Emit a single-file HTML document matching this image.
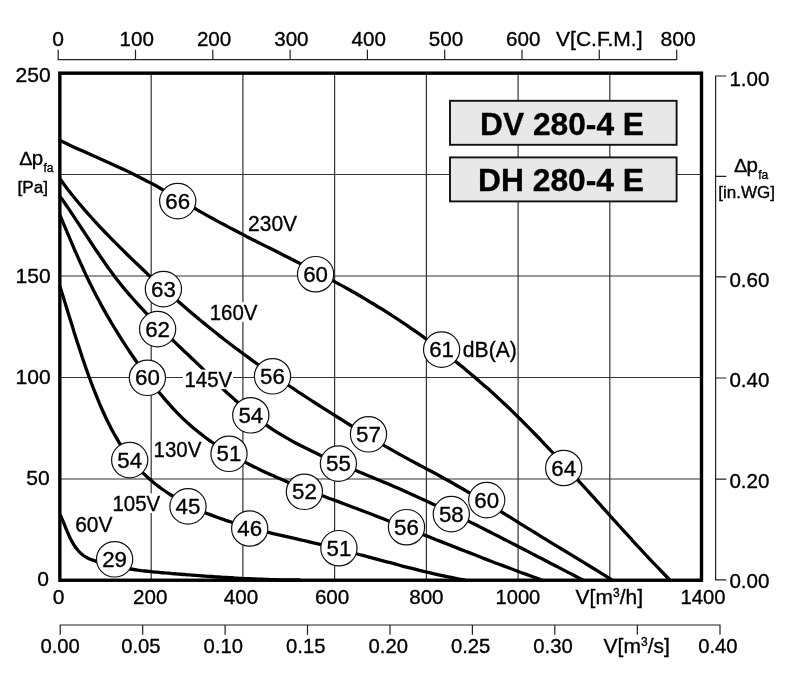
<!DOCTYPE html>
<html><head><meta charset="utf-8"><title>DV 280-4 E</title>
<style>
html,body{margin:0;padding:0;background:#fff;}
body{width:790px;height:681px;overflow:hidden;font-family:"Liberation Sans",sans-serif;}
svg{display:block;filter:grayscale(1);}
text{stroke:#000;stroke-width:.35px;stroke-linejoin:round;}
</style></head><body>
<svg width="790" height="681" viewBox="0 0 790 681" font-family="'Liberation Sans', sans-serif" fill="#000">
<rect x="0" y="0" width="790" height="681" fill="#fff"/>
<path d="M151.20 73.2 V580.2 M242.90 73.2 V580.2 M334.60 73.2 V580.2 M426.40 73.2 V580.2 M518.10 73.2 V580.2 M609.80 73.2 V580.2 M59.9 174.50 H701.5 M59.9 276.00 H701.5 M59.9 377.50 H701.5 M59.9 479.00 H701.5" stroke="#333" stroke-width="1.2" fill="none"/>
<path d="M58.2 49.7 V59.6 H676.7 V49.7 M135.5 59.6 V49.7 M212.8 59.6 V49.7 M290.1 59.6 V49.7 M367.4 59.6 V49.7 M444.7 59.6 V49.7 M522.0 59.6 V49.7 M599.3 59.6 V49.7" stroke="#222" stroke-width="1.2" fill="none"/>
<path d="M726.3 76 H715.6 V579.9 H726.3 M715.6 176.3 H726.3 M715.6 276.9 H726.3 M715.6 378.0 H726.3 M715.6 479.2 H726.3" stroke="#222" stroke-width="1.2" fill="none"/>
<path d="M60.2 634.8 V625 H720.0 V634.8 M142.7 625 V634.8 M225.1 625 V634.8 M307.5 625 V634.8 M390.0 625 V634.8 M472.4 625 V634.8 M554.8 625 V634.8 M637.3 625 V634.8" stroke="#222" stroke-width="1.2" fill="none"/>
<rect x="450.0" y="100.8" width="226.6" height="44.0" fill="#e8e8e9" stroke="#111" stroke-width="1.9"/>
<rect x="450.0" y="157.4" width="226.6" height="44.0" fill="#e8e8e9" stroke="#111" stroke-width="1.9"/>
<text x="562.0" y="135.1" font-size="32" font-weight="bold" text-anchor="middle" textLength="164" lengthAdjust="spacingAndGlyphs">DV 280-4 E</text>
<text x="561.0" y="190.8" font-size="32" font-weight="bold" text-anchor="middle" textLength="166" lengthAdjust="spacingAndGlyphs">DH 280-4 E</text>
<path d="M60.0 140.6 C61.7 141.4 66.9 143.8 70.3 145.4 C73.7 146.9 77.1 148.4 80.5 150.0 C83.8 151.5 87.2 153.0 90.6 154.5 C93.9 156.0 97.3 157.4 100.6 158.9 C103.9 160.4 107.2 161.9 110.5 163.4 C113.8 164.9 117.1 166.4 120.4 167.9 C123.7 169.5 127.0 171.0 130.2 172.6 C133.5 174.2 136.7 175.8 140.0 177.4 C143.2 179.0 146.4 180.7 149.6 182.4 C152.9 184.2 156.1 185.9 159.3 187.7 C162.5 189.6 165.7 191.4 168.9 193.3 C172.1 195.1 175.2 197.0 178.4 198.9 C181.6 200.8 184.8 202.7 188.0 204.5 C191.2 206.4 194.4 208.3 197.7 210.1 C200.9 212.0 204.1 213.8 207.3 215.6 C210.6 217.4 213.8 219.1 217.1 220.9 C220.3 222.7 223.6 224.4 226.8 226.1 C230.1 227.9 233.4 229.6 236.6 231.3 C239.9 233.0 243.2 234.7 246.4 236.4 C249.7 238.0 253.0 239.7 256.3 241.4 C259.6 243.0 262.8 244.7 266.1 246.4 C269.4 248.0 272.7 249.7 276.0 251.3 C279.2 253.0 282.5 254.6 285.8 256.3 C289.1 257.9 292.3 259.6 295.6 261.3 C298.9 262.9 302.1 264.6 305.4 266.3 C308.7 267.9 311.9 269.6 315.2 271.3 C318.4 273.0 321.7 274.7 324.9 276.4 C328.1 278.1 331.4 279.9 334.6 281.6 C337.8 283.3 341.0 285.1 344.2 286.9 C347.4 288.7 350.6 290.5 353.8 292.3 C357.0 294.1 360.2 295.9 363.3 297.8 C366.5 299.7 369.6 301.6 372.7 303.5 C375.9 305.4 379.0 307.3 382.1 309.2 C385.2 311.2 388.3 313.2 391.4 315.2 C394.5 317.2 397.6 319.2 400.6 321.2 C403.7 323.3 406.7 325.3 409.7 327.4 C412.8 329.5 415.8 331.6 418.8 333.7 C421.8 335.8 424.8 338.0 427.7 340.2 C430.7 342.3 433.7 344.5 436.6 346.7 C439.5 348.9 442.5 351.2 445.4 353.4 C448.3 355.7 451.2 357.9 454.1 360.2 C456.9 362.5 459.8 364.8 462.7 367.1 C465.5 369.5 468.3 371.8 471.1 374.2 C474.0 376.6 476.8 378.9 479.5 381.4 C482.3 383.8 485.1 386.2 487.8 388.6 C490.6 391.1 493.3 393.5 496.0 396.0 C498.7 398.5 501.4 401.0 504.1 403.5 C506.8 406.0 509.4 408.6 512.1 411.1 C514.7 413.7 517.3 416.3 519.9 418.8 C522.5 421.4 525.1 424.0 527.7 426.6 C530.3 429.2 532.9 431.9 535.4 434.5 C538.0 437.1 540.6 439.8 543.1 442.5 C545.6 445.1 548.2 447.8 550.7 450.5 C553.2 453.1 555.7 455.8 558.2 458.5 C560.7 461.2 563.2 463.9 565.7 466.6 C568.2 469.3 570.7 472.1 573.1 474.8 C575.6 477.5 578.1 480.2 580.6 483.0 C583.0 485.7 585.5 488.4 588.0 491.1 C590.4 493.9 592.9 496.6 595.4 499.4 C597.8 502.1 600.3 504.8 602.7 507.6 C605.2 510.3 607.7 513.0 610.1 515.8 C612.6 518.5 615.0 521.2 617.5 524.0 C620.0 526.7 622.4 529.4 624.9 532.2 C627.4 534.9 629.9 537.6 632.3 540.3 C634.8 543.0 637.3 545.7 639.8 548.4 C642.3 551.1 644.8 553.8 647.3 556.5 C649.8 559.1 652.4 561.8 654.9 564.5 C657.4 567.1 660.0 569.8 662.5 572.4 C665.1 575.1 668.9 579.0 670.2 580.3" stroke="#000" stroke-width="3.3" fill="none" stroke-linejoin="round"/>
<path d="M60.0 178.7 C61.0 180.1 63.9 184.2 65.9 186.9 C67.9 189.6 70.0 192.2 72.0 194.8 C74.1 197.4 76.2 200.0 78.3 202.5 C80.5 205.1 82.6 207.6 84.8 210.1 C86.9 212.6 89.1 215.0 91.4 217.5 C93.6 219.9 95.8 222.4 98.1 224.8 C100.3 227.2 102.6 229.6 104.9 232.0 C107.2 234.4 109.5 236.7 111.8 239.1 C114.1 241.5 116.4 243.8 118.8 246.2 C121.1 248.5 123.5 250.9 125.9 253.2 C128.2 255.5 130.6 257.8 133.0 260.1 C135.4 262.4 137.8 264.7 140.2 267.0 C142.7 269.3 145.1 271.6 147.5 273.9 C150.0 276.1 152.4 278.4 154.9 280.6 C157.3 282.9 159.8 285.1 162.3 287.3 C164.7 289.6 167.2 291.8 169.7 294.0 C172.2 296.2 174.7 298.4 177.2 300.6 C179.7 302.8 182.2 305.0 184.7 307.1 C187.3 309.3 189.8 311.4 192.3 313.6 C194.9 315.7 197.4 317.9 200.0 320.0 C202.6 322.1 205.1 324.2 207.7 326.3 C210.3 328.4 212.9 330.5 215.5 332.5 C218.1 334.6 220.7 336.6 223.3 338.7 C225.9 340.7 228.6 342.7 231.2 344.7 C233.8 346.8 236.5 348.8 239.2 350.7 C241.8 352.7 244.5 354.7 247.2 356.6 C249.8 358.6 252.5 360.5 255.2 362.5 C257.9 364.4 260.6 366.3 263.4 368.2 C266.1 370.1 268.8 372.0 271.5 373.9 C274.2 375.7 277.0 377.6 279.7 379.5 C282.5 381.3 285.2 383.2 288.0 385.0 C290.7 386.9 293.5 388.7 296.2 390.5 C299.0 392.4 301.8 394.2 304.5 396.0 C307.3 397.8 310.1 399.6 312.9 401.5 C315.7 403.3 318.5 405.1 321.3 406.8 C324.0 408.6 326.9 410.4 329.7 412.2 C332.5 414.0 335.3 415.8 338.1 417.5 C340.9 419.3 343.8 421.1 346.6 422.9 C349.4 424.6 352.3 426.4 355.1 428.1 C358.0 429.9 360.8 431.6 363.7 433.4 C366.6 435.1 369.4 436.9 372.3 438.6 C375.2 440.3 378.1 442.0 380.9 443.7 C383.8 445.4 386.7 447.1 389.6 448.7 C392.5 450.4 395.4 452.0 398.3 453.6 C401.2 455.2 404.1 456.8 407.0 458.4 C409.8 460.0 412.7 461.5 415.6 463.0 C418.5 464.6 421.4 466.1 424.3 467.6 C427.2 469.2 430.1 470.7 433.0 472.3 C435.9 473.8 438.8 475.4 441.6 477.0 C444.5 478.6 447.4 480.2 450.3 481.8 C453.2 483.4 456.0 485.1 458.9 486.7 C461.8 488.3 464.7 490.0 467.5 491.7 C470.4 493.3 473.3 495.0 476.1 496.7 C479.0 498.4 481.9 500.1 484.7 501.8 C487.6 503.5 490.4 505.2 493.3 507.0 C496.2 508.7 499.0 510.4 501.9 512.2 C504.7 513.9 507.6 515.7 510.4 517.4 C513.3 519.2 516.1 521.0 519.0 522.8 C521.8 524.5 524.7 526.3 527.5 528.1 C530.4 529.8 533.2 531.6 536.1 533.4 C538.9 535.1 541.7 536.9 544.6 538.6 C547.4 540.4 550.2 542.1 553.1 543.8 C555.9 545.6 558.8 547.3 561.6 549.0 C564.4 550.7 567.2 552.4 570.1 554.2 C572.9 555.9 575.7 557.6 578.6 559.3 C581.4 561.0 584.2 562.8 587.0 564.5 C589.9 566.2 592.7 567.9 595.5 569.7 C598.3 571.4 601.1 573.2 604.0 574.9 C606.8 576.7 611.0 579.3 612.4 580.2" stroke="#000" stroke-width="3.3" fill="none" stroke-linejoin="round"/>
<path d="M60.0 196.4 C60.9 197.7 63.7 201.6 65.5 204.2 C67.3 206.8 69.1 209.5 70.9 212.1 C72.7 214.8 74.4 217.4 76.2 220.1 C78.0 222.8 79.8 225.5 81.5 228.2 C83.3 230.8 85.1 233.5 86.8 236.2 C88.6 238.9 90.4 241.6 92.2 244.3 C93.9 247.0 95.7 249.7 97.5 252.3 C99.3 255.0 101.2 257.7 103.0 260.3 C104.8 262.9 106.7 265.6 108.5 268.2 C110.4 270.8 112.3 273.3 114.2 275.9 C116.1 278.5 118.1 281.0 120.1 283.5 C122.0 286.0 124.0 288.4 126.1 290.9 C128.1 293.3 130.2 295.7 132.3 298.0 C134.4 300.4 136.5 302.7 138.7 305.1 C140.8 307.4 143.0 309.7 145.2 312.1 C147.4 314.4 149.6 316.7 151.9 319.1 C154.1 321.4 156.4 323.7 158.6 326.1 C160.9 328.4 163.2 330.7 165.5 333.0 C167.8 335.3 170.1 337.6 172.4 339.8 C174.7 342.0 177.0 344.3 179.3 346.5 C181.6 348.7 183.9 350.8 186.2 353.0 C188.5 355.2 190.8 357.3 193.1 359.5 C195.4 361.7 197.7 363.9 200.0 366.1 C202.3 368.3 204.5 370.5 206.8 372.8 C209.1 375.0 211.3 377.3 213.6 379.6 C215.8 381.9 218.1 384.1 220.4 386.4 C222.7 388.6 225.0 390.8 227.3 393.0 C229.7 395.1 232.1 397.2 234.5 399.4 C236.9 401.5 239.3 403.6 241.8 405.7 C244.2 407.8 246.7 409.9 249.2 411.9 C251.7 414.0 254.3 416.1 256.8 418.0 C259.4 420.0 262.0 422.0 264.6 423.9 C267.2 425.7 269.8 427.5 272.5 429.3 C275.2 431.0 277.9 432.7 280.6 434.4 C283.3 436.0 286.0 437.6 288.8 439.1 C291.5 440.7 294.3 442.2 297.1 443.7 C299.9 445.2 302.7 446.6 305.6 448.0 C308.4 449.5 311.3 450.8 314.2 452.2 C317.0 453.6 319.9 454.9 322.8 456.3 C325.8 457.6 328.7 458.9 331.6 460.2 C334.5 461.5 337.5 462.7 340.4 464.0 C343.4 465.3 346.4 466.5 349.3 467.8 C352.3 469.0 355.3 470.2 358.2 471.5 C361.2 472.7 364.2 473.9 367.1 475.2 C370.1 476.4 373.1 477.6 376.1 478.9 C379.0 480.1 382.0 481.4 385.0 482.6 C387.9 483.9 390.9 485.1 393.9 486.4 C396.8 487.7 399.8 489.0 402.7 490.3 C405.6 491.6 408.6 492.9 411.5 494.2 C414.4 495.5 417.3 496.8 420.2 498.2 C423.2 499.5 426.1 500.8 429.0 502.2 C431.9 503.5 434.8 504.9 437.7 506.3 C440.6 507.6 443.5 509.0 446.3 510.4 C449.2 511.8 452.1 513.2 455.0 514.6 C457.9 516.0 460.7 517.4 463.6 518.8 C466.5 520.2 469.3 521.6 472.2 523.1 C475.1 524.5 477.9 525.9 480.8 527.4 C483.6 528.8 486.5 530.2 489.4 531.7 C492.2 533.1 495.1 534.6 497.9 536.0 C500.8 537.5 503.6 538.9 506.4 540.4 C509.3 541.9 512.1 543.3 515.0 544.8 C517.8 546.3 520.7 547.7 523.5 549.2 C526.4 550.7 529.2 552.1 532.0 553.6 C534.9 555.1 537.7 556.6 540.6 558.0 C543.4 559.5 546.3 561.0 549.1 562.5 C551.9 564.0 554.8 565.4 557.6 566.9 C560.5 568.4 563.3 569.9 566.2 571.4 C569.0 572.8 571.9 574.3 574.7 575.8 C577.6 577.3 581.9 579.5 583.3 580.2" stroke="#000" stroke-width="3.3" fill="none" stroke-linejoin="round"/>
<path d="M60.0 215.2 C60.6 216.6 62.3 220.9 63.5 223.7 C64.7 226.5 65.9 229.4 67.1 232.2 C68.3 235.0 69.5 237.9 70.7 240.7 C71.9 243.5 73.1 246.4 74.3 249.2 C75.6 252.0 76.8 254.8 78.1 257.6 C79.3 260.4 80.6 263.3 81.9 266.0 C83.1 268.8 84.4 271.6 85.7 274.4 C87.1 277.2 88.4 279.9 89.7 282.7 C91.1 285.4 92.4 288.2 93.8 290.9 C95.2 293.6 96.6 296.4 98.1 299.1 C99.5 301.8 100.9 304.4 102.4 307.1 C103.9 309.8 105.4 312.4 106.9 315.1 C108.4 317.7 110.0 320.3 111.5 323.0 C113.1 325.6 114.7 328.2 116.3 330.8 C117.9 333.4 119.5 336.0 121.1 338.6 C122.8 341.2 124.5 343.7 126.1 346.3 C127.8 348.9 129.5 351.4 131.2 354.0 C133.0 356.5 134.7 359.1 136.5 361.7 C138.2 364.2 140.0 366.8 141.8 369.3 C143.6 371.8 145.4 374.4 147.3 376.9 C149.1 379.4 151.0 381.9 152.9 384.4 C154.8 386.8 156.7 389.3 158.6 391.7 C160.6 394.1 162.5 396.5 164.5 398.9 C166.6 401.3 168.6 403.6 170.7 405.9 C172.7 408.2 174.8 410.4 177.0 412.6 C179.1 414.8 181.3 417.0 183.5 419.1 C185.7 421.2 188.0 423.2 190.3 425.2 C192.5 427.2 194.9 429.2 197.2 431.1 C199.6 433.0 202.0 434.8 204.4 436.7 C206.8 438.5 209.2 440.2 211.7 442.0 C214.2 443.7 216.7 445.4 219.2 447.0 C221.8 448.7 224.4 450.3 226.9 451.9 C229.5 453.5 232.1 455.0 234.8 456.5 C237.4 458.0 240.1 459.5 242.8 460.9 C245.4 462.4 248.1 463.8 250.9 465.2 C253.6 466.6 256.3 467.9 259.1 469.2 C261.8 470.6 264.6 471.9 267.4 473.2 C270.2 474.5 273.0 475.7 275.8 477.0 C278.6 478.2 281.5 479.4 284.3 480.6 C287.2 481.8 290.0 483.0 292.9 484.2 C295.7 485.3 298.6 486.5 301.5 487.6 C304.4 488.8 307.3 489.9 310.2 491.0 C313.1 492.2 315.9 493.3 318.8 494.4 C321.7 495.5 324.7 496.6 327.6 497.7 C330.5 498.8 333.4 499.8 336.3 500.9 C339.2 502.0 342.1 503.1 345.0 504.2 C347.9 505.3 350.8 506.4 353.7 507.5 C356.6 508.5 359.4 509.6 362.3 510.7 C365.2 511.8 368.1 512.9 371.0 514.0 C373.8 515.1 376.7 516.3 379.6 517.4 C382.4 518.5 385.3 519.6 388.1 520.7 C391.0 521.8 393.8 522.9 396.7 524.1 C399.5 525.2 402.4 526.3 405.2 527.4 C408.1 528.5 410.9 529.7 413.8 530.8 C416.6 531.9 419.4 533.0 422.3 534.2 C425.1 535.3 428.0 536.4 430.8 537.5 C433.6 538.7 436.5 539.8 439.3 540.9 C442.1 542.0 445.0 543.2 447.8 544.3 C450.7 545.4 453.5 546.5 456.3 547.6 C459.2 548.8 462.0 549.9 464.9 551.0 C467.7 552.1 470.6 553.2 473.4 554.3 C476.2 555.4 479.1 556.6 482.0 557.7 C484.8 558.8 487.7 559.9 490.5 561.0 C493.4 562.1 496.3 563.2 499.1 564.2 C502.0 565.3 504.9 566.4 507.8 567.5 C510.6 568.6 513.5 569.7 516.4 570.7 C519.3 571.8 522.2 572.9 525.1 573.9 C528.0 575.0 530.9 576.0 533.8 577.1 C536.7 578.1 541.1 579.7 542.6 580.2" stroke="#000" stroke-width="3.3" fill="none" stroke-linejoin="round"/>
<path d="M60.0 286.6 C60.4 287.9 61.6 291.7 62.4 294.2 C63.2 296.7 64.0 299.3 64.7 301.8 C65.5 304.3 66.3 306.9 67.1 309.4 C67.9 311.9 68.6 314.5 69.4 317.0 C70.2 319.5 71.0 322.1 71.8 324.6 C72.6 327.1 73.4 329.6 74.1 332.2 C74.9 334.7 75.7 337.2 76.5 339.8 C77.3 342.3 78.2 344.8 79.0 347.3 C79.8 349.9 80.6 352.4 81.5 354.9 C82.3 357.4 83.1 359.9 84.0 362.4 C84.9 365.0 85.7 367.5 86.6 370.0 C87.5 372.5 88.4 375.0 89.3 377.5 C90.2 380.0 91.1 382.5 92.1 385.0 C93.0 387.4 94.0 389.9 95.0 392.4 C96.0 394.9 97.0 397.4 98.0 399.8 C99.0 402.3 100.0 404.8 101.1 407.2 C102.2 409.7 103.3 412.1 104.4 414.5 C105.5 417.0 106.6 419.4 107.8 421.8 C109.0 424.2 110.2 426.6 111.4 428.9 C112.7 431.3 113.9 433.6 115.3 435.9 C116.6 438.2 117.9 440.5 119.3 442.8 C120.7 445.0 122.1 447.2 123.6 449.4 C125.1 451.6 126.6 453.8 128.2 455.9 C129.8 458.0 131.4 460.1 133.0 462.1 C134.7 464.1 136.4 466.1 138.2 468.1 C140.0 470.0 141.8 471.9 143.7 473.7 C145.6 475.6 147.5 477.4 149.5 479.1 C151.5 480.9 153.6 482.6 155.6 484.2 C157.7 485.8 159.9 487.4 162.0 489.0 C164.2 490.5 166.4 492.0 168.6 493.5 C170.8 494.9 173.1 496.3 175.4 497.7 C177.6 499.0 179.9 500.4 182.2 501.6 C184.6 502.9 186.9 504.1 189.2 505.3 C191.6 506.5 194.0 507.6 196.4 508.7 C198.8 509.8 201.2 510.9 203.6 511.9 C206.0 513.0 208.5 514.0 210.9 514.9 C213.4 515.9 215.9 516.8 218.4 517.7 C220.9 518.6 223.4 519.5 225.9 520.4 C228.4 521.2 230.9 522.0 233.5 522.8 C236.0 523.6 238.5 524.4 241.1 525.1 C243.7 525.9 246.2 526.6 248.8 527.3 C251.4 528.0 254.0 528.7 256.5 529.4 C259.1 530.1 261.7 530.7 264.3 531.4 C266.9 532.0 269.5 532.7 272.1 533.3 C274.7 533.9 277.3 534.5 280.0 535.1 C282.6 535.7 285.2 536.3 287.8 536.9 C290.4 537.5 293.0 538.1 295.6 538.7 C298.2 539.3 300.9 539.9 303.5 540.5 C306.1 541.1 308.7 541.7 311.3 542.3 C313.9 542.9 316.5 543.5 319.1 544.1 C321.7 544.7 324.2 545.3 326.8 546.0 C329.4 546.6 332.0 547.3 334.5 547.9 C337.1 548.6 339.7 549.2 342.2 549.9 C344.8 550.6 347.3 551.2 349.9 551.9 C352.4 552.6 355.0 553.3 357.5 554.0 C360.1 554.6 362.6 555.3 365.2 556.0 C367.7 556.7 370.3 557.4 372.8 558.1 C375.4 558.8 377.9 559.5 380.4 560.2 C383.0 560.8 385.5 561.5 388.1 562.2 C390.6 562.9 393.2 563.6 395.7 564.2 C398.2 564.9 400.8 565.6 403.3 566.3 C405.9 566.9 408.5 567.6 411.0 568.2 C413.6 568.9 416.1 569.5 418.7 570.2 C421.3 570.8 423.8 571.4 426.4 572.0 C429.0 572.6 431.6 573.2 434.2 573.8 C436.8 574.4 439.4 575.0 442.0 575.6 C444.6 576.1 447.2 576.7 449.8 577.2 C452.4 577.7 455.0 578.3 457.7 578.8 C460.3 579.3 464.3 580.0 465.6 580.2" stroke="#000" stroke-width="3.3" fill="none" stroke-linejoin="round"/>
<path d="M60.0 514.4 C60.3 515.0 61.1 516.7 61.6 517.9 C62.1 519.0 62.6 520.2 63.1 521.4 C63.6 522.6 64.1 523.8 64.6 525.0 C65.0 526.2 65.5 527.4 66.0 528.6 C66.5 529.8 67.0 531.0 67.5 532.2 C68.0 533.4 68.5 534.6 69.1 535.8 C69.6 537.0 70.2 538.1 70.8 539.3 C71.4 540.4 72.0 541.6 72.6 542.7 C73.3 543.8 73.9 544.9 74.7 546.0 C75.4 547.1 76.2 548.1 77.0 549.1 C77.8 550.2 78.7 551.2 79.6 552.1 C80.5 553.0 81.4 553.9 82.4 554.7 C83.5 555.5 84.5 556.3 85.6 556.9 C86.7 557.6 87.9 558.2 89.0 558.7 C90.2 559.2 91.4 559.7 92.6 560.1 C93.8 560.6 95.1 561.0 96.3 561.3 C97.6 561.7 98.8 562.1 100.0 562.5 C101.3 562.8 102.5 563.2 103.8 563.5 C105.0 563.8 106.3 564.2 107.5 564.5 C108.8 564.8 110.0 565.1 111.3 565.4 C112.5 565.7 113.8 565.9 115.0 566.2 C116.3 566.5 117.5 566.7 118.8 567.0 C120.0 567.2 121.3 567.5 122.6 567.7 C123.8 567.9 125.1 568.2 126.3 568.4 C127.6 568.6 128.9 568.8 130.1 569.0 C131.4 569.2 132.7 569.4 133.9 569.5 C135.2 569.7 136.5 569.9 137.7 570.1 C139.0 570.2 140.3 570.4 141.6 570.6 C142.8 570.7 144.1 570.9 145.4 571.0 C146.7 571.2 147.9 571.3 149.2 571.4 C150.5 571.6 151.8 571.7 153.0 571.8 C154.3 572.0 155.6 572.1 156.9 572.2 C158.2 572.3 159.4 572.4 160.7 572.6 C162.0 572.7 163.3 572.8 164.6 572.9 C165.9 573.0 167.2 573.1 168.4 573.2 C169.7 573.3 171.0 573.5 172.3 573.6 C173.6 573.7 174.9 573.8 176.2 573.9 C177.5 574.0 178.7 574.1 180.0 574.2 C181.3 574.3 182.6 574.4 183.9 574.5 C185.2 574.6 186.5 574.7 187.8 574.8 C189.1 574.9 190.4 575.0 191.7 575.1 C192.9 575.2 194.2 575.3 195.5 575.4 C196.8 575.5 198.1 575.6 199.4 575.7 C200.7 575.8 202.0 575.9 203.3 576.0 C204.6 576.1 205.9 576.2 207.2 576.3 C208.5 576.4 209.8 576.4 211.1 576.5 C212.4 576.6 213.7 576.7 215.0 576.8 C216.3 576.9 217.6 577.0 218.9 577.0 C220.1 577.1 221.4 577.2 222.7 577.3 C224.0 577.4 225.3 577.4 226.6 577.5 C227.9 577.6 229.2 577.7 230.5 577.7 C231.8 577.8 233.1 577.9 234.4 578.0 C235.7 578.0 237.0 578.1 238.3 578.2 C239.6 578.2 240.9 578.3 242.2 578.4 C243.5 578.4 244.8 578.5 246.1 578.6 C247.3 578.6 248.6 578.7 249.9 578.7 C251.2 578.8 252.5 578.9 253.8 578.9 C255.1 579.0 256.4 579.0 257.7 579.1 C259.0 579.1 260.3 579.2 261.6 579.2 C262.8 579.3 264.1 579.3 265.4 579.3 C266.7 579.4 268.0 579.4 269.3 579.5 C270.6 579.5 271.9 579.5 273.1 579.6 C274.4 579.6 275.7 579.6 277.0 579.7 C278.3 579.7 279.6 579.7 280.8 579.8 C282.1 579.8 283.4 579.8 284.7 579.8 C286.0 579.9 287.2 579.9 288.5 579.9 C289.8 579.9 291.1 579.9 292.4 579.9 C293.6 580.0 294.9 580.0 296.2 580.0 C297.5 580.0 299.4 580.0 300.0 580.0" stroke="#000" stroke-width="3.3" fill="none" stroke-linejoin="round"/>
<rect x="59.85" y="73.15" width="641.65" height="507.10" fill="none" stroke="#000" stroke-width="3.4"/>
<rect x="246.5" y="214.0" width="51.6" height="19.6" fill="#fff"/>
<text x="248.1" y="231.3" font-size="21.5" textLength="49.0" lengthAdjust="spacingAndGlyphs">230V</text>
<rect x="208.1" y="302.2" width="50.3" height="19.6" fill="#fff"/>
<text x="209.7" y="319.5" font-size="21.5" textLength="47.7" lengthAdjust="spacingAndGlyphs">160V</text>
<rect x="182.9" y="369.6" width="50.2" height="19.6" fill="#fff"/>
<text x="184.5" y="386.9" font-size="21.5" textLength="47.6" lengthAdjust="spacingAndGlyphs">145V</text>
<rect x="151.9" y="439.8" width="50.4" height="19.6" fill="#fff"/>
<text x="153.5" y="457.1" font-size="21.5" textLength="47.8" lengthAdjust="spacingAndGlyphs">130V</text>
<rect x="110.8" y="493.4" width="50.4" height="19.6" fill="#fff"/>
<text x="112.4" y="510.7" font-size="21.5" textLength="47.8" lengthAdjust="spacingAndGlyphs">105V</text>
<rect x="73.6" y="514.3" width="39.8" height="19.6" fill="#fff"/>
<text x="75.2" y="531.6" font-size="21.5" textLength="37.2" lengthAdjust="spacingAndGlyphs">60V</text>
<text x="462.8" y="357.4" font-size="21.5" textLength="54.0" lengthAdjust="spacingAndGlyphs">dB(A)</text>
<ellipse cx="177.7" cy="201.1" rx="18.1" ry="17.7" fill="#fff" stroke="#111" stroke-width="1.2"/>
<text x="177.7" y="208.7" font-size="22.3" text-anchor="middle" textLength="24.8" lengthAdjust="spacingAndGlyphs">66</text>
<ellipse cx="315.6" cy="274.2" rx="18.1" ry="17.7" fill="#fff" stroke="#111" stroke-width="1.2"/>
<text x="315.6" y="281.8" font-size="22.3" text-anchor="middle" textLength="24.8" lengthAdjust="spacingAndGlyphs">60</text>
<ellipse cx="441.6" cy="349.6" rx="18.1" ry="17.7" fill="#fff" stroke="#111" stroke-width="1.2"/>
<text x="441.6" y="357.2" font-size="22.3" text-anchor="middle" textLength="24.8" lengthAdjust="spacingAndGlyphs">61</text>
<ellipse cx="563.7" cy="468.0" rx="18.1" ry="17.7" fill="#fff" stroke="#111" stroke-width="1.2"/>
<text x="563.7" y="475.6" font-size="22.3" text-anchor="middle" textLength="24.8" lengthAdjust="spacingAndGlyphs">64</text>
<ellipse cx="163.4" cy="289.1" rx="18.1" ry="17.7" fill="#fff" stroke="#111" stroke-width="1.2"/>
<text x="163.4" y="296.7" font-size="22.3" text-anchor="middle" textLength="24.8" lengthAdjust="spacingAndGlyphs">63</text>
<ellipse cx="272.5" cy="376.3" rx="18.1" ry="17.7" fill="#fff" stroke="#111" stroke-width="1.2"/>
<text x="272.5" y="383.9" font-size="22.3" text-anchor="middle" textLength="24.8" lengthAdjust="spacingAndGlyphs">56</text>
<ellipse cx="368.5" cy="434.3" rx="18.1" ry="17.7" fill="#fff" stroke="#111" stroke-width="1.2"/>
<text x="368.5" y="441.9" font-size="22.3" text-anchor="middle" textLength="24.8" lengthAdjust="spacingAndGlyphs">57</text>
<ellipse cx="486.7" cy="500.1" rx="18.1" ry="17.7" fill="#fff" stroke="#111" stroke-width="1.2"/>
<text x="486.7" y="507.7" font-size="22.3" text-anchor="middle" textLength="24.8" lengthAdjust="spacingAndGlyphs">60</text>
<ellipse cx="157.6" cy="329.1" rx="18.1" ry="17.7" fill="#fff" stroke="#111" stroke-width="1.2"/>
<text x="157.6" y="336.7" font-size="22.3" text-anchor="middle" textLength="24.8" lengthAdjust="spacingAndGlyphs">62</text>
<ellipse cx="250.8" cy="415.3" rx="18.1" ry="17.7" fill="#fff" stroke="#111" stroke-width="1.2"/>
<text x="250.8" y="422.9" font-size="22.3" text-anchor="middle" textLength="24.8" lengthAdjust="spacingAndGlyphs">54</text>
<ellipse cx="338.4" cy="463.6" rx="18.1" ry="17.7" fill="#fff" stroke="#111" stroke-width="1.2"/>
<text x="338.4" y="471.2" font-size="22.3" text-anchor="middle" textLength="24.8" lengthAdjust="spacingAndGlyphs">55</text>
<ellipse cx="451.3" cy="514.1" rx="18.1" ry="17.7" fill="#fff" stroke="#111" stroke-width="1.2"/>
<text x="451.3" y="521.7" font-size="22.3" text-anchor="middle" textLength="24.8" lengthAdjust="spacingAndGlyphs">58</text>
<ellipse cx="147.4" cy="377.8" rx="18.1" ry="17.7" fill="#fff" stroke="#111" stroke-width="1.2"/>
<text x="147.4" y="385.4" font-size="22.3" text-anchor="middle" textLength="24.8" lengthAdjust="spacingAndGlyphs">60</text>
<ellipse cx="229.0" cy="453.8" rx="18.1" ry="17.7" fill="#fff" stroke="#111" stroke-width="1.2"/>
<text x="229.0" y="461.4" font-size="22.3" text-anchor="middle" textLength="24.8" lengthAdjust="spacingAndGlyphs">51</text>
<ellipse cx="304.4" cy="491.8" rx="18.1" ry="17.7" fill="#fff" stroke="#111" stroke-width="1.2"/>
<text x="304.4" y="499.4" font-size="22.3" text-anchor="middle" textLength="24.8" lengthAdjust="spacingAndGlyphs">52</text>
<ellipse cx="406.5" cy="527.2" rx="18.1" ry="17.7" fill="#fff" stroke="#111" stroke-width="1.2"/>
<text x="406.5" y="534.8" font-size="22.3" text-anchor="middle" textLength="24.8" lengthAdjust="spacingAndGlyphs">56</text>
<ellipse cx="129.7" cy="460.1" rx="18.1" ry="17.7" fill="#fff" stroke="#111" stroke-width="1.2"/>
<text x="129.7" y="467.7" font-size="22.3" text-anchor="middle" textLength="24.8" lengthAdjust="spacingAndGlyphs">54</text>
<ellipse cx="188.0" cy="506.4" rx="18.1" ry="17.7" fill="#fff" stroke="#111" stroke-width="1.2"/>
<text x="188.0" y="514.0" font-size="22.3" text-anchor="middle" textLength="24.8" lengthAdjust="spacingAndGlyphs">45</text>
<ellipse cx="249.7" cy="528.5" rx="18.1" ry="17.7" fill="#fff" stroke="#111" stroke-width="1.2"/>
<text x="249.7" y="536.1" font-size="22.3" text-anchor="middle" textLength="24.8" lengthAdjust="spacingAndGlyphs">46</text>
<ellipse cx="338.9" cy="548.2" rx="18.1" ry="17.7" fill="#fff" stroke="#111" stroke-width="1.2"/>
<text x="338.9" y="555.8" font-size="22.3" text-anchor="middle" textLength="24.8" lengthAdjust="spacingAndGlyphs">51</text>
<ellipse cx="114.6" cy="559.3" rx="18.1" ry="17.7" fill="#fff" stroke="#111" stroke-width="1.2"/>
<text x="114.6" y="566.9" font-size="22.3" text-anchor="middle" textLength="24.8" lengthAdjust="spacingAndGlyphs">29</text>
<text x="58.2" y="46.2" font-size="21" text-anchor="middle" textLength="11.7" lengthAdjust="spacingAndGlyphs">0</text>
<text x="136.8" y="46.2" font-size="21" text-anchor="middle" textLength="34.4" lengthAdjust="spacingAndGlyphs">100</text>
<text x="214.1" y="46.2" font-size="21" text-anchor="middle" textLength="34.4" lengthAdjust="spacingAndGlyphs">200</text>
<text x="291.4" y="46.2" font-size="21" text-anchor="middle" textLength="34.4" lengthAdjust="spacingAndGlyphs">300</text>
<text x="368.7" y="46.2" font-size="21" text-anchor="middle" textLength="34.4" lengthAdjust="spacingAndGlyphs">400</text>
<text x="446.0" y="46.2" font-size="21" text-anchor="middle" textLength="34.4" lengthAdjust="spacingAndGlyphs">500</text>
<text x="523.3" y="46.2" font-size="21" text-anchor="middle" textLength="34.4" lengthAdjust="spacingAndGlyphs">600</text>
<text x="678.1" y="46.2" font-size="21" text-anchor="middle" textLength="35.3" lengthAdjust="spacingAndGlyphs">800</text>
<text x="556.0" y="46.2" font-size="21" textLength="86.5" lengthAdjust="spacingAndGlyphs">V[C.F.M.]</text>
<text x="50.6" y="82.0" font-size="21" text-anchor="end" textLength="35.1" lengthAdjust="spacingAndGlyphs">250</text>
<text x="50.6" y="283.1" font-size="21" text-anchor="end" textLength="35.1" lengthAdjust="spacingAndGlyphs">150</text>
<text x="50.6" y="384.3" font-size="21" text-anchor="end" textLength="35.1" lengthAdjust="spacingAndGlyphs">100</text>
<text x="49.6" y="484.9" font-size="21" text-anchor="end" textLength="23.4" lengthAdjust="spacingAndGlyphs">50</text>
<text x="49.0" y="585.8" font-size="21" text-anchor="end" textLength="11.7" lengthAdjust="spacingAndGlyphs">0</text>
<text x="729.4" y="85.8" font-size="21" textLength="40.0" lengthAdjust="spacingAndGlyphs">1.00</text>
<text x="729.4" y="287.4" font-size="21" textLength="40.0" lengthAdjust="spacingAndGlyphs">0.60</text>
<text x="729.4" y="387.4" font-size="21" textLength="40.0" lengthAdjust="spacingAndGlyphs">0.40</text>
<text x="729.4" y="487.5" font-size="21" textLength="40.0" lengthAdjust="spacingAndGlyphs">0.20</text>
<text x="729.4" y="588.3" font-size="21" textLength="40.0" lengthAdjust="spacingAndGlyphs">0.00</text>
<text x="58.7" y="604.1" font-size="21" text-anchor="middle" textLength="11.7" lengthAdjust="spacingAndGlyphs">0</text>
<text x="150.2" y="604.1" font-size="21" text-anchor="middle" textLength="34.4" lengthAdjust="spacingAndGlyphs">200</text>
<text x="241.0" y="604.1" font-size="21" text-anchor="middle" textLength="34.4" lengthAdjust="spacingAndGlyphs">400</text>
<text x="332.1" y="604.1" font-size="21" text-anchor="middle" textLength="34.4" lengthAdjust="spacingAndGlyphs">600</text>
<text x="426.4" y="604.1" font-size="21" text-anchor="middle" textLength="34.4" lengthAdjust="spacingAndGlyphs">800</text>
<text x="517.9" y="604.1" font-size="21" text-anchor="middle" textLength="44.6" lengthAdjust="spacingAndGlyphs">1000</text>
<text x="680.5" y="604.1" font-size="21" textLength="45.0" lengthAdjust="spacingAndGlyphs">1400</text>
<text x="575.6" y="604.1" font-size="21">V[m<tspan font-size="12" dy="-7">3</tspan><tspan dy="7">/h]</tspan></text>
<text x="60.1" y="653.2" font-size="21" text-anchor="middle" textLength="39.4" lengthAdjust="spacingAndGlyphs">0.00</text>
<text x="140.9" y="653.2" font-size="21" text-anchor="middle" textLength="39.4" lengthAdjust="spacingAndGlyphs">0.05</text>
<text x="223.3" y="653.2" font-size="21" text-anchor="middle" textLength="39.4" lengthAdjust="spacingAndGlyphs">0.10</text>
<text x="305.7" y="653.2" font-size="21" text-anchor="middle" textLength="39.4" lengthAdjust="spacingAndGlyphs">0.15</text>
<text x="388.2" y="653.2" font-size="21" text-anchor="middle" textLength="39.4" lengthAdjust="spacingAndGlyphs">0.20</text>
<text x="470.6" y="653.2" font-size="21" text-anchor="middle" textLength="39.4" lengthAdjust="spacingAndGlyphs">0.25</text>
<text x="553.0" y="653.2" font-size="21" text-anchor="middle" textLength="39.4" lengthAdjust="spacingAndGlyphs">0.30</text>
<text x="717.9" y="653.2" font-size="21" text-anchor="middle" textLength="39.4" lengthAdjust="spacingAndGlyphs">0.40</text>
<text x="603.6" y="653.2" font-size="21">V[m<tspan font-size="12" dy="-7">3</tspan><tspan dy="7">/s]</tspan></text>
<text x="19.3" y="165.0" font-size="18.8" textLength="13.3" lengthAdjust="spacingAndGlyphs">Δ</text>
<text x="31.8" y="165.0" font-size="20.5">p</text>
<text x="43.5" y="172.0" font-size="12">fa</text>
<text x="17.5" y="193.2" font-size="16" textLength="30.5" lengthAdjust="spacingAndGlyphs">[Pa]</text>
<text x="734.0" y="171.7" font-size="18.8" textLength="13.3" lengthAdjust="spacingAndGlyphs">Δ</text>
<text x="746.5" y="171.7" font-size="20.5">p</text>
<text x="758.2" y="178.7" font-size="12">fa</text>
<text x="718.2" y="198.3" font-size="16" textLength="56.8" lengthAdjust="spacingAndGlyphs">[in.WG]</text>
</svg>
</body></html>
